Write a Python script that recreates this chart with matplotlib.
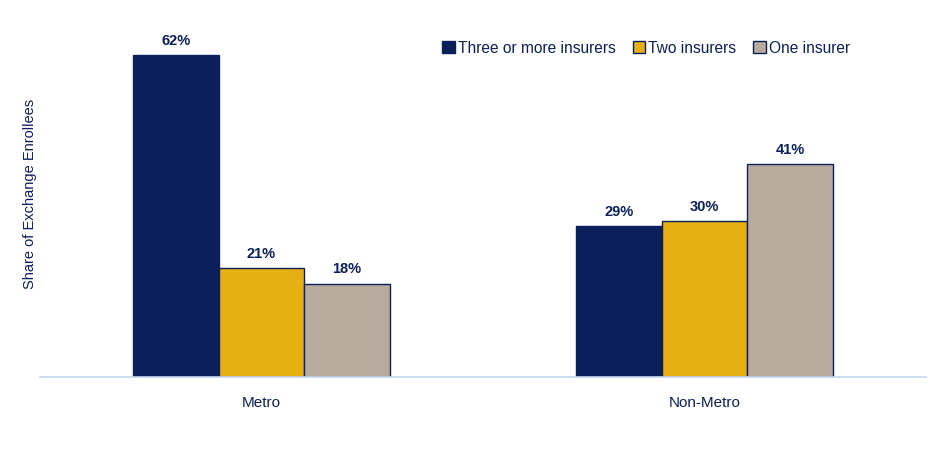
import matplotlib
matplotlib.use('Agg')
import matplotlib.pyplot as plt
import numpy as np

plt.rcParams['font.family'] = ['Liberation Sans', 'DejaVu Sans']

categories = ['Metro', 'Non-Metro']
series = ['Three or more insurers', 'Two insurers', 'One insurer']
three_plus = [62, 29]
two = [21, 30]
one = [18, 41]
values = [three_plus, two, one]

colors = ['#0B1F5A', '#E6AF12', '#B8AB9E']
navy = '#0B1F5A'

fig = plt.figure(figsize=(9.4, 4.56), dpi=100)
ax = fig.add_axes([40 / 940, 78 / 456, 886 / 940, 363.4 / 456])

x = np.arange(len(categories))
width = 0.193
for i, (name, vals) in enumerate(zip(series, values)):
    pos = x + (i - 1) * width
    bars = ax.bar(pos, vals, width, color=colors[i], edgecolor=navy,
                  linewidth=1, label=name)
    for b, v in zip(bars, vals):
        ax.text(b.get_x() + b.get_width() / 2, v + 1.6, f'{v}%',
                ha='center', va='bottom', fontsize=10.5, fontweight='bold',
                color=navy)

ax.set_xlim(-0.5, 1.5)
ax.set_ylim(0, 70)
ax.set_xticks(x)
ax.set_xticklabels(categories, fontsize=11, color=navy)
ax.tick_params(axis='x', length=0, pad=13)
ax.set_yticks([])
for s in ['top', 'right', 'left']:
    ax.spines[s].set_visible(False)
ax.spines['bottom'].set_color('#C5D5F0')
ax.spines['bottom'].set_linewidth(1.2)

fig.text(30 / 940, 0.575, 'Share of Exchange Enrollees', rotation=90,
         ha='center', va='center', fontsize=10.5, color=navy)

leg = ax.legend(loc='upper right', bbox_to_anchor=(0.93, 0.965), ncol=3,
                frameon=False, fontsize=11.2, handlelength=0.8,
                handleheight=0.8, handletextpad=0.2, columnspacing=1.1)
for t in leg.get_texts():
    t.set_color(navy)

fig.savefig('out.png', dpi=100)
